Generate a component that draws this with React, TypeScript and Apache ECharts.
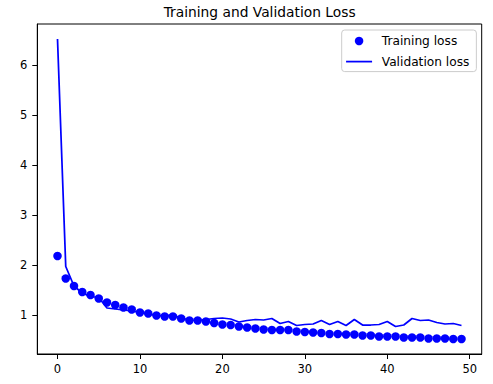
import React, { useEffect, useRef } from "react";
import * as echarts from "echarts";

const epochs = [0, 1, 2, 3, 4, 5, 6, 7, 8, 9, 10, 11, 12, 13, 14, 15, 16, 17, 18, 19, 20, 21, 22, 23, 24, 25, 26, 27, 28, 29, 30, 31, 32, 33, 34, 35, 36, 37, 38, 39, 40, 41, 42, 43, 44, 45, 46, 47, 48, 49];

const trainingLoss = [
  2.18, 1.73, 1.58, 1.46, 1.4, 1.33, 1.25, 1.2, 1.15, 1.11,
  1.05, 1.03, 0.99, 0.97, 0.97, 0.93, 0.89, 0.89, 0.87, 0.84,
  0.81, 0.8, 0.77, 0.75, 0.73, 0.71, 0.7, 0.7, 0.7, 0.67,
  0.66, 0.65, 0.64, 0.62, 0.62, 0.61, 0.61, 0.59, 0.59, 0.57,
  0.57, 0.57, 0.55, 0.55, 0.55, 0.53, 0.53, 0.53, 0.52, 0.52,
];

const validationLoss = [
  6.52, 1.97, 1.58, 1.44, 1.37, 1.35, 1.14, 1.12, 1.1, 1.08,
  1.05, 1.02, 0.99, 0.98, 1.0, 0.94, 0.9, 0.89, 0.91, 0.93,
  0.94, 0.92, 0.86, 0.89, 0.91, 0.9, 0.93, 0.83, 0.87, 0.79,
  0.81, 0.82, 0.89, 0.81, 0.87, 0.79, 0.91, 0.8, 0.8, 0.81,
  0.87, 0.77, 0.8, 0.93, 0.89, 0.9, 0.85, 0.82, 0.83, 0.79,
];

const xTicks = [0, 10, 20, 30, 40, 50];
const yTicks = [1, 2, 3, 4, 5, 6];

const FONT = "DejaVu Sans";

export default function App() {
  const ref = useRef<HTMLDivElement>(null);
  useEffect(() => {
    if (!ref.current) return;
    const chart = echarts.init(ref.current, undefined, { renderer: "svg" });
    const axisCommon = {
      type: "value" as const,
      splitLine: { show: false },
      axisLine: { show: true, onZero: false, lineStyle: { color: "#000", width: 1 } },
    };
    chart.setOption({
      animation: false,
      backgroundColor: "#fff",
      graphic: [
        {
          type: "text",
          x: 259.6,
          y: 11.5,
          style: {
            text: "Training and Validation Loss",
            font: `13.8px "${FONT}"`,
            fill: "#000",
            align: "center",
            verticalAlign: "middle",
            textAlign: "center",
            textVerticalAlign: "middle",
          },
        },
      ],
      grid: {
        left: 37.3,
        right: 11.3,
        top: 24,
        bottom: 30,
        show: true,
        borderColor: "#000",
        borderWidth: 1,
        backgroundColor: "transparent",
      },
      legend: {
        orient: "vertical",
        left: 341.7,
        top: 30,
        itemWidth: 26,
        itemHeight: 8.5,
        itemGap: 6.6,
        padding: [4, 7, 3, 3.5],
        backgroundColor: "rgba(255,255,255,0.8)",
        borderColor: "#cccccc",
        borderWidth: 1,
        borderRadius: 3,
        textStyle: {
          fontFamily: FONT,
          fontSize: 12.2,
          color: "#000",
          lineHeight: 14,
          padding: [0, 0, 0, 4.7],
        },
        data: [
          { name: "Training loss", icon: "circle" },
          {
            name: "Validation loss",
            itemStyle: { opacity: 0 },
            lineStyle: { color: "#0000ff", width: 1.75, opacity: 1 },
          },
        ],
      },
      xAxis: {
        ...axisCommon,
        min: -2.45,
        max: 51.45,
        axisTick: { show: true, length: 5, customValues: xTicks, lineStyle: { color: "#000" } },
        axisLabel: {
          customValues: xTicks,
          margin: 9,
          fontFamily: FONT,
          fontSize: 11.5,
          color: "#000",
        },
      },
      yAxis: {
        ...axisCommon,
        min: 0.22,
        max: 6.82,
        axisTick: { show: true, length: 5, customValues: yTicks, lineStyle: { color: "#000" } },
        axisLabel: {
          customValues: yTicks,
          margin: 10,
          fontFamily: FONT,
          fontSize: 11.5,
          color: "#000",
        },
      },
      series: [
        {
          name: "Training loss",
          type: "scatter",
          symbol: "circle",
          symbolSize: 8.5,
          itemStyle: { color: "#0000ff", opacity: 1 },
          data: epochs.map((e, i) => [e, trainingLoss[i]]),
          z: 2,
        },
        {
          name: "Validation loss",
          type: "line",
          symbol: "none",
          lineStyle: { color: "#0000ff", width: 1.75 },
          itemStyle: { color: "#0000ff" },
          data: epochs.map((e, i) => [e, validationLoss[i]]),
          z: 3,
        },
      ],
    });
    return () => chart.dispose();
  }, []);
  return (
    <div
      ref={ref}
      style={{ position: "fixed", left: 0, top: 0, width: 493, height: 384 }}
    />
  );
}
